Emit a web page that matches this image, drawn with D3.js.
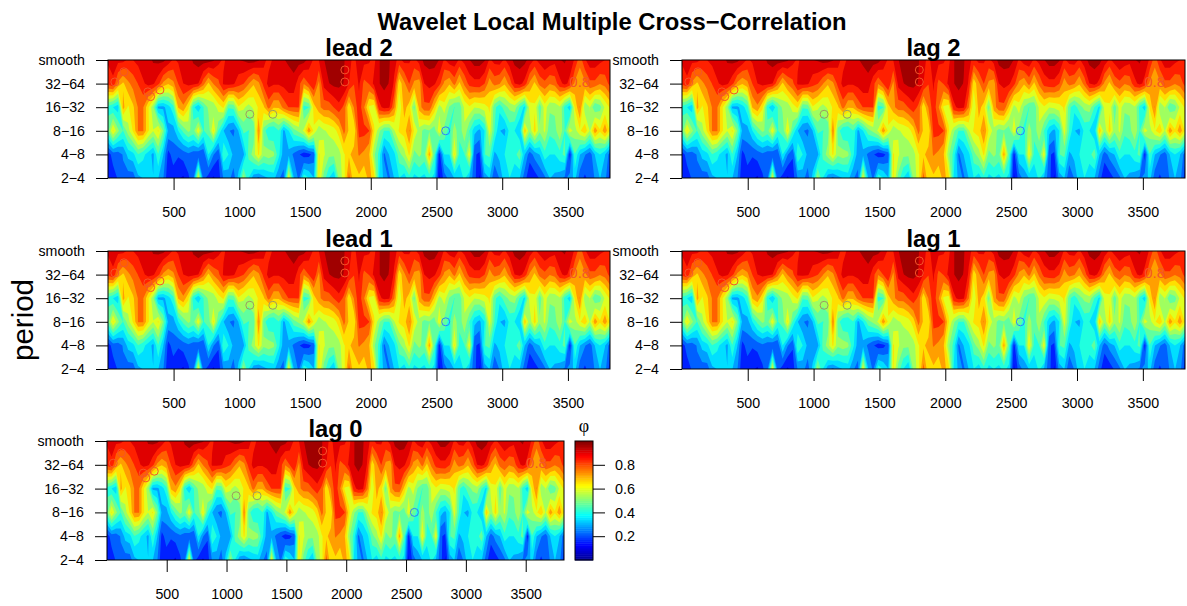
<!DOCTYPE html>
<html><head><meta charset="utf-8"><script src="https://d3js.org/d3.v7.min.js"></script>
<style>html,body{margin:0;background:#fff}svg{display:block;font-family:"Liberation Sans",Arial,sans-serif}</style></head>
<body><svg id="c" width="1187" height="606"></svg>
<script>
const periods=["smooth","32\u221264","16\u221232","8\u221216","4\u22128","2\u22124"];
const xTicks=[500,1000,1500,2000,2500,3000,3500];
const legendTicks=[0.2,0.4,0.6,0.8];
const panelNames=["lead 2","lag 2","lead 1","lag 1","lag 0"];
const rowSmooth=[.87,.88,.88,.88,.85,.86,.88,.9,.9,.93,.94,.94,.9,.85,.87,.89,.9,.93,.95,.95,.95,.93,.88,.85,.88,.9,.92,.93,.95,.95,.93,.88,.84,.87,.9,.92,.93,.95,.95,.95,.9,.85,.86,.92,.95,.96,.96,.93,.87,.85,.88,
.88,.87,.84,.92,.94,.93,.88,.84,.88,.87,.84,.89,.94,.95,.95,.92,.85,.9,.9,.85,.88,.92,.95,.95,.93,.85,.88,.89,.85,.9,.94,.95,.94,.9,.85,.88,.92,.9,.88,.92,.93,.9,.85,.76,.85,.9,.9,.88,.86,.85];
const row32=[.82,.85,.72,.66,.72,.76,.8,.85,.88,.87,.82,.72,.68,.72,.8,.86,.88,.88,.86,.76,.66,.74,.78,.87,.88,.87,.82,.8,.74,.68,.72,.82,.88,.87,.87,.88,.9,.9,.82,.74,.8,.86,.72,.88,.92,.94,.94,.92,.86,.8,.87,
.78,.8,.88,.92,.94,.92,.85,.63,.72,.8,.72,.7,.86,.88,.87,.82,.72,.68,.76,.66,.75,.82,.84,.84,.8,.7,.76,.74,.68,.76,.86,.88,.84,.72,.66,.76,.78,.74,.76,.84,.88,.84,.72,.68,.72,.78,.78,.74,.76,.82];
const row16=[.4,.36,.32,.7,.6,.66,.74,.74,.62,.5,.28,.28,.33,.4,.68,.72,.62,.38,.3,.42,.5,.5,.58,.62,.43,.44,.6,.56,.52,.56,.62,.66,.76,.68,.68,.76,.8,.8,.8,.4,.42,.64,.72,.76,.76,.8,.84,.78,.62,.74,.84,
.74,.6,.58,.84,.88,.87,.74,.55,.7,.64,.46,.7,.78,.78,.66,.52,.58,.48,.42,.44,.56,.6,.55,.56,.58,.62,.44,.38,.46,.5,.52,.42,.34,.58,.6,.44,.58,.5,.5,.54,.4,.32,.62,.74,.5,.55,.42,.46,.56,.62];
const row8=[.46,.62,.5,.42,.52,.62,.74,.74,.62,.55,.62,.48,.28,.27,.36,.44,.5,.46,.6,.42,.44,.62,.42,.3,.24,.22,.3,.44,.42,.44,.74,.46,.36,.36,.42,.28,.36,.46,.5,.56,.72,.6,.5,.54,.56,.58,.64,.76,.66,.62,.82,
.82,.8,.62,.5,.42,.42,.54,.62,.64,.74,.6,.52,.46,.48,.44,.6,.46,.4,.52,.44,.54,.42,.32,.28,.36,.58,.42,.3,.28,.38,.36,.3,.66,.5,.64,.5,.56,.44,.46,.54,.42,.58,.52,.6,.66,.54,.72,.62,.72,.6];
const row4=[.14,.2,.2,.24,.32,.34,.42,.38,.33,.28,.42,.3,.15,.2,.18,.2,.22,.2,.18,.18,.36,.24,.18,.42,.36,.28,.24,.28,.44,.52,.62,.5,.52,.5,.38,.26,.28,.22,.18,.14,.15,.2,.62,.56,.5,.5,.52,.6,.66,.7,.74,
.72,.68,.5,.4,.22,.3,.34,.46,.52,.62,.46,.5,.46,.7,.44,.14,.36,.36,.62,.4,.42,.6,.18,.16,.42,.44,.28,.32,.36,.4,.4,.46,.3,.2,.26,.3,.4,.36,.36,.4,.44,.14,.42,.3,.24,.2,.3,.36,.3,.2];
const row2=[.12,.14,.18,.22,.2,.2,.28,.3,.36,.3,.3,.24,.12,.14,.12,.1,.16,.22,.6,.2,.14,.1,.14,.24,.26,.2,.32,.52,.36,.26,.22,.28,.3,.32,.24,.22,.6,.3,.22,.4,.36,.3,.62,.46,.36,.3,.5,.58,.76,.62,.66,
.62,.7,.64,.36,.28,.22,.3,.36,.32,.4,.34,.36,.34,.38,.34,.1,.2,.26,.3,.3,.38,.28,.2,.1,.26,.3,.18,.24,.34,.36,.3,.3,.2,.12,.14,.18,.22,.3,.28,.26,.22,.26,.32,.2,.16,.2,.24,.3,.26,.14];
const surface=[rowSmooth,row32,row16,row8,row4,row2];
const contourMarks=[[304,1.35],[325,1.55],[396,1.27],[122,.5],[53,.93],[1803,.42],[1803,.93]];
const faintMarks=[[1080,2.3],[1255,2.3]];
const blueMarks=[[2570,3]];
const labelMarks=[[3590,.93]];

const domainX=[1,3820];
const layout={"lead 2":[108,610,60,178],"lag 2":[682,1185,60,178],"lead 1":[108,610,251,369],"lag 1":[682,1185,251,369],"lag 0":[107,564,441,560]};
const jet=d3.scaleLinear().domain([0,.125,.375,.625,.875,1]).range(["#00008f","#0000ff","#00ffff","#ffff00","#ff0000","#800000"]);
const levels=d3.range(0,1,1/16).map(d=>d-.015);
const svg=d3.select("#c");
const n=surface[0].length,m=surface.length;
surface.forEach((r,i)=>{if(r.length!==n)throw new Error("row "+i+" length "+r.length);});
const bands=d3.contours().size([n,m]).thresholds(levels)(surface.flat());
panelNames.forEach((name,pi)=>{
  const [x0,x1,y0,y1]=layout[name];
  const x=d3.scaleLinear(domainX,[x0,x1]);
  const y=d3.scalePoint(periods,[y0,y1]);
  const gx=d3.scaleLinear([.5,n-.5],domainX);
  const gy=d3.scaleLinear([.5,m-.5],[y0,y1]);
  const ry=d3.scaleLinear([0,m-1],[y0,y1]);
  const path=d3.geoPath(d3.geoTransform({point(a,b){this.stream.point(x(gx(a)),gy(b));}}));
  const g=svg.append("g");
  const cid="clip"+pi;
  g.append("clipPath").attr("id",cid).append("rect").attr("x",x0).attr("y",y0).attr("width",x1-x0).attr("height",y1-y0);
  const plot=g.append("g").attr("clip-path",`url(#${cid})`);
  plot.selectAll("path").data(bands).join("path").attr("d",path).attr("fill",d=>jet(d.value+.015+1/32));
  [[contourMarks,"#f4552a"],[faintMarks,"#9c9c62"],[blueMarks,"#2f7fff"]].forEach(([marks,col])=>{
    plot.append("g").selectAll("ellipse").data(marks).join("ellipse")
      .attr("cx",d=>x(d[0])).attr("cy",d=>ry(d[1])).attr("rx",4).attr("ry",4)
      .attr("fill","none").attr("stroke",col).attr("stroke-width",1);
  });
  plot.selectAll("text").data(labelMarks).join("text")
    .attr("x",d=>x(d[0])).attr("y",d=>ry(d[1])).attr("text-anchor","middle").attr("dy",".35em")
    .attr("font-size",15).attr("fill","#f4552a").text("0.8");
  g.append("rect").attr("x",x0).attr("y",y0).attr("width",x1-x0).attr("height",y1-y0).attr("fill","none").attr("stroke","#000").attr("stroke-width",1);
  const ay=g.append("g").attr("transform",`translate(${x0},0)`).call(d3.axisLeft(y).tickSize(12).tickPadding(11));
  ay.select(".domain").remove();
  ay.selectAll("text").attr("font-size",14.2).attr("font-family","Liberation Sans").attr("fill","#000");
  const ax=g.append("g").attr("transform",`translate(0,${y1})`).call(d3.axisBottom(x).tickValues(xTicks).tickFormat(d3.format("d")).tickSize(12).tickPadding(17));
  ax.select(".domain").remove();
  ax.selectAll("text").attr("font-size",14.2).attr("font-family","Liberation Sans").attr("fill","#000");
  g.append("text").attr("x",(x0+x1)/2).attr("y",y0-4).attr("text-anchor","middle").attr("font-weight","bold").attr("font-size",23.8).text(name);
});
svg.append("text").attr("x",612).attr("y",30).attr("text-anchor","middle").attr("font-weight","bold").attr("font-size",23.8).text("Wavelet Local Multiple Cross\u2212Correlation");
svg.append("text").attr("transform","translate(33,320) rotate(-90)").attr("text-anchor","middle").attr("font-size",29.5).text("period");
const ly=d3.scaleLinear([0,1],[560,441]);
const ramp=d3.range(0,1,1/64);
const lg=svg.append("g");
lg.selectAll("rect").data(ramp).join("rect").attr("x",575).attr("width",18).attr("y",d=>ly(d+1/64)).attr("height",ly(0)-ly(1/64)+.5).attr("fill",d=>jet(d+1/128));
lg.append("rect").attr("x",575).attr("y",441).attr("width",18).attr("height",119).attr("fill","none").attr("stroke","#000");
const al=lg.append("g").attr("transform","translate(593,0)").call(d3.axisRight(ly).tickValues(legendTicks).tickSize(12).tickPadding(10).tickFormat(d3.format(".1f")));
al.select(".domain").remove();
al.selectAll("text").attr("font-size",14.4).attr("font-family","Liberation Sans").attr("fill","#000");
lg.append("text").attr("x",584).attr("y",432).attr("text-anchor","middle").attr("font-size",18).attr("font-family","Liberation Serif").text("\u03c6");
</script></body></html>
